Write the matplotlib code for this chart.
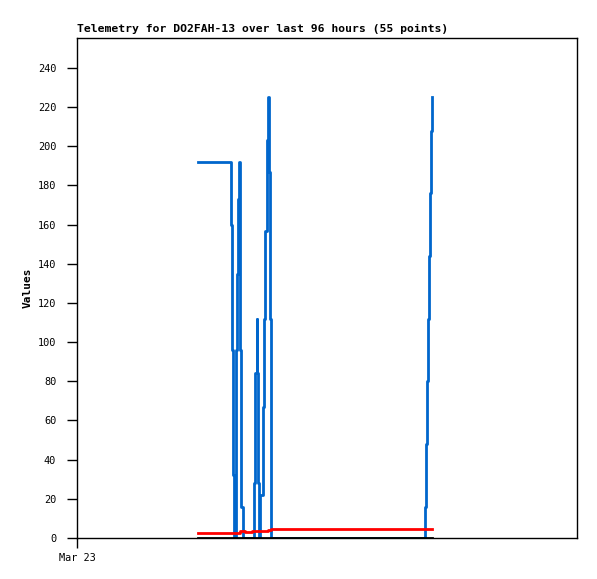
import matplotlib
matplotlib.use("Agg")
import matplotlib.pyplot as plt

# hours since left edge of the 96 h window ("Mar 23" at 0)
blue_t = [23.23, 29.57, 29.76, 29.89, 30.01, 30.09, 30.53, 30.72, 30.91, 31.10,
          31.20, 31.35, 31.49, 31.58, 31.93, 34.03, 34.22, 34.49, 34.60, 34.68,
          34.87, 35.06, 35.75, 35.95, 36.14, 36.41, 36.60, 36.79, 36.99, 37.18,
          37.29, 66.82, 67.01, 67.20, 67.39, 67.59, 67.78, 67.97, 68.10, 68.22]
blue_v = [192, 160, 96, 57, 32, 0, 96, 135, 173, 192,
          135, 96, 57, 16, 0, 28, 84, 112, 84, 28,
          0, 22, 67, 112, 157, 203, 225, 187, 112, 38,
          0, 16, 48, 80, 112, 144, 176, 208, 225, 225]

red_t = [23.23, 31.30, 31.87, 32.26, 33.60, 36.67, 37.25, 68.22]
red_v = [2.7, 3.4, 3.7, 2.9, 3.6, 4.2, 4.7, 4.7]

black_t = [23.23, 68.22]
black_v = [0, 0]

yticks = list(range(0, 241, 20))
title = "Telemetry for DO2FAH-13 over last 96 hours (55 points)"

plt.rcParams['font.family'] = ['DejaVu Sans Mono']

fig = plt.figure(figsize=(5.97, 5.79), dpi=100)
ax = fig.add_axes([77/597, 41/579, 500/597, 500/579])

ax.plot(blue_t, blue_v, drawstyle='steps-post', color='#0066cc', linewidth=2)
ax.plot(red_t, red_v, drawstyle='steps-post', color='#ff0000', linewidth=2)
ax.plot(black_t, black_v, color='black', linewidth=2)

ax.set_xlim(0, 96)
ax.set_ylim(0, 255.3)
ax.set_yticks(yticks)
ax.set_yticklabels([str(v) for v in yticks], fontsize=7.4)
ax.set_xticks([0])
ax.set_xticklabels(['Mar 23'], fontsize=7.4)
ax.tick_params(axis='y', direction='out', length=7, width=1, pad=8)
ax.tick_params(axis='x', direction='out', length=7, width=1, pad=4)
for s in ax.spines.values():
    s.set_linewidth(1)

ax.set_ylabel('Values', fontsize=8, fontweight='bold', labelpad=4)
ax.set_title(title, loc='left', fontsize=8.2, fontweight='bold', pad=4)

fig.savefig('out.png', dpi=100)
